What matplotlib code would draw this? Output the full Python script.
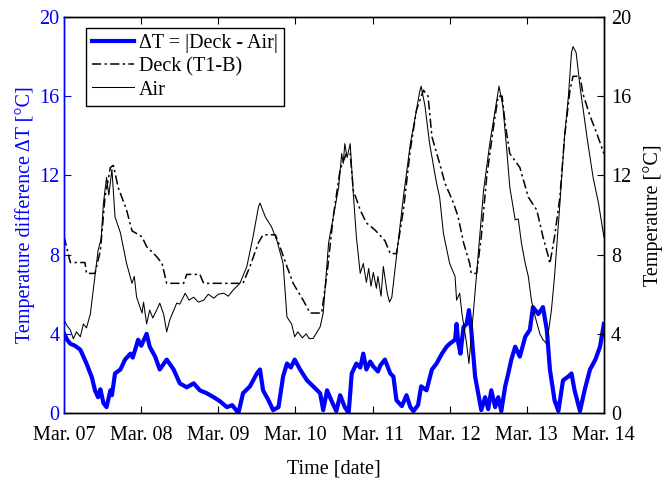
import matplotlib
matplotlib.use("Agg")
import matplotlib.pyplot as plt

plt.rcParams['font.family'] = ['Liberation Serif', 'DejaVu Serif']

# Time axis in days after Mar. 07 00:00
day_labels = ["Mar. 07", "Mar. 08", "Mar. 09", "Mar. 10",
              "Mar. 11", "Mar. 12", "Mar. 13", "Mar. 14"]

# Deck surface temperature, sensor T1-B [°C]
t_deck = [0.00, 0.08, 0.27, 0.29, 0.40, 0.47, 0.53, 0.60, 0.64, 0.70,
          0.81, 0.88, 1.01, 1.07, 1.20, 1.27, 1.33, 1.55, 1.59, 1.76,
          1.81, 2.32, 2.41, 2.52, 2.58, 2.74, 2.78, 2.89, 2.97, 3.10,
          3.19, 3.34, 3.41, 3.49, 3.58, 3.66, 3.71, 3.75, 3.84, 3.92,
          4.03, 4.16, 4.23, 4.31, 4.40, 4.49, 4.57, 4.66, 4.72, 4.77,
          4.87, 4.94, 5.05, 5.11, 5.18, 5.26, 5.28, 5.35, 5.41, 5.48,
          5.57, 5.63, 5.68, 5.72, 5.78, 5.91, 6.02, 6.13, 6.21, 6.28,
          6.30, 6.36, 6.43, 6.49, 6.56, 6.60, 6.69, 6.73, 6.82, 6.91,
          7.00]
deck = [8.9, 7.6, 7.6, 7.05, 7.05, 8.2, 10.9, 12.4, 12.5, 11.4,
        10.25, 9.2, 8.9, 8.4, 7.9, 7.55, 6.55, 6.55, 7.0, 7.0,
        6.55, 6.55, 7.4, 8.6, 9.0, 9.0, 8.6, 7.4, 6.55, 5.7,
        5.05, 5.05, 7.05, 9.9, 12.3, 13.1, 13.1, 11.25, 10.25, 9.6,
        9.25, 8.7, 8.05, 8.05, 10.25, 13.3, 15.3, 16.3, 16.0, 13.95,
        12.6, 11.6, 10.6, 9.9, 8.6, 7.55, 7.05, 7.05, 8.9, 11.9,
        14.5, 16.0, 16.0, 14.6, 13.1, 12.4, 10.9, 10.25, 8.9, 7.9,
        7.55, 8.9, 10.9, 13.95, 16.3, 17.0, 17.0, 16.1, 15.0, 14.1,
        13.1]

# Air temperature [°C]
t_air = [0.00, 0.04, 0.08, 0.12, 0.16, 0.21, 0.25, 0.29, 0.34, 0.40,
         0.44, 0.48, 0.51, 0.55, 0.58, 0.62, 0.66, 0.73, 0.81, 0.88,
         0.91, 0.94, 1.01, 1.03, 1.07, 1.11, 1.15, 1.20, 1.24, 1.29,
         1.33, 1.37, 1.46, 1.50, 1.57, 1.62, 1.68, 1.74, 1.81, 1.87,
         1.94, 2.00, 2.07, 2.13, 2.19, 2.28, 2.37, 2.45, 2.52, 2.54,
         2.61, 2.69, 2.76, 2.84, 2.89, 2.95, 2.99, 3.03, 3.09, 3.14,
         3.18, 3.23, 3.32, 3.36, 3.43, 3.49, 3.56, 3.60, 3.62, 3.64,
         3.67, 3.71, 3.75, 3.79, 3.84, 3.88, 3.92, 3.95, 3.98, 4.01,
         4.05, 4.07, 4.11, 4.14, 4.19, 4.22, 4.25, 4.31, 4.40, 4.49,
         4.57, 4.61, 4.63, 4.68, 4.74, 4.83, 4.87, 4.92, 5.00, 5.07,
         5.09, 5.13, 5.16, 5.22, 5.25, 5.31, 5.39, 5.44, 5.52, 5.59,
         5.64, 5.69, 5.74, 5.78, 5.85, 5.89, 5.93, 5.98, 6.02, 6.06,
         6.11, 6.17, 6.21, 6.26, 6.32, 6.36, 6.43, 6.49, 6.54, 6.58,
         6.60, 6.64, 6.69, 6.78, 6.86, 6.93, 7.00]
air = [4.7, 4.4, 4.2, 3.75, 4.1, 3.85, 4.5, 4.3, 5.0, 6.9,
       8.2, 8.8, 10.6, 11.9, 11.0, 12.3, 9.9, 9.1, 7.55, 6.55,
       6.9, 5.85, 5.05, 5.6, 4.5, 5.2, 4.8, 5.2, 5.55, 5.0,
       4.1, 4.7, 5.55, 5.5, 6.05, 5.7, 5.85, 5.6, 5.7, 6.0,
       5.8, 6.0, 6.05, 5.9, 6.2, 6.55, 7.4, 8.9, 10.4, 10.6,
       9.9, 9.4, 8.7, 7.55, 4.85, 4.5, 3.85, 4.1, 3.8, 4.0,
       3.75, 3.77, 4.35, 5.05, 8.6, 9.9, 11.4, 13.1, 12.6, 13.6,
       12.9, 13.6, 11.1, 8.9, 7.05, 7.55, 6.6, 7.3, 6.4, 7.1,
       6.3, 6.9, 5.9, 7.4, 6.05, 5.6, 5.85, 7.9, 10.9, 13.6,
       15.3, 16.2, 16.5, 15.5, 13.6, 11.6, 10.9, 9.05, 7.55, 6.9,
       5.7, 6.05, 5.0, 3.5, 2.5, 5.2, 8.9, 11.25, 13.6, 15.3,
       16.5, 15.5, 13.3, 11.4, 9.75, 9.8, 8.6, 7.55, 6.9, 5.7,
       4.85, 4.0, 3.7, 3.5, 5.2, 6.9, 10.6, 13.95, 16.0, 18.2,
       18.5, 18.2, 16.5, 13.95, 11.9, 10.6, 8.9]

# Temperature difference |Deck - Air| [°C]
t_dt = [0.00, 0.04, 0.08, 0.14, 0.21, 0.29, 0.36, 0.40, 0.44, 0.47,
        0.51, 0.55, 0.60, 0.62, 0.66, 0.73, 0.79, 0.86, 0.89, 0.96,
        1.00, 1.07, 1.11, 1.18, 1.24, 1.33, 1.42, 1.50, 1.59, 1.68,
        1.76, 1.85, 1.94, 2.02, 2.11, 2.18, 2.26, 2.32, 2.41, 2.50,
        2.54, 2.58, 2.65, 2.71, 2.78, 2.84, 2.89, 2.94, 2.99, 3.06,
        3.15, 3.23, 3.32, 3.36, 3.41, 3.47, 3.53, 3.58, 3.64, 3.69,
        3.73, 3.79, 3.84, 3.88, 3.92, 3.97, 4.01, 4.07, 4.10, 4.16,
        4.23, 4.27, 4.31, 4.38, 4.44, 4.49, 4.53, 4.59, 4.63, 4.70,
        4.77, 4.83, 4.90, 4.96, 5.00, 5.07, 5.09, 5.11, 5.14, 5.18,
        5.22, 5.25, 5.28, 5.33, 5.37, 5.41, 5.46, 5.50, 5.54, 5.59,
        5.63, 5.67, 5.72, 5.76, 5.80, 5.85, 5.91, 5.98, 6.04, 6.08,
        6.15, 6.21, 6.26, 6.30, 6.36, 6.41, 6.47, 6.54, 6.58, 6.62,
        6.69, 6.75, 6.82, 6.89, 6.95, 7.00]
dt = [4.0, 3.7, 3.5, 3.4, 3.2, 2.5, 1.8, 1.15, 0.8, 1.2,
      0.5, 0.3, 1.15, 0.9, 2.0, 2.2, 2.7, 3.0, 2.8, 3.7,
      3.4, 4.0, 3.35, 2.85, 2.2, 2.7, 2.2, 1.5, 1.3, 1.5,
      1.15, 1.0, 0.8, 0.6, 0.3, 0.4, 0.0, 1.0, 1.35, 2.0,
      2.2, 1.15, 0.65, 0.15, 0.3, 1.85, 2.5, 2.3, 2.7, 2.2,
      1.65, 1.35, 1.0, 0.15, 1.15, 0.6, 0.1, 0.9, 0.3, 0.0,
      2.0, 2.5, 2.3, 3.0, 2.2, 2.6, 2.35, 2.1, 2.4, 2.7,
      2.0, 1.85, 0.65, 0.35, 0.9, 0.3, 0.1, 0.4, 1.35, 1.15,
      2.2, 2.5, 3.0, 3.35, 3.5, 3.7, 4.5, 3.6, 3.0, 4.35,
      4.5, 5.2, 4.2, 1.85, 1.0, 0.15, 0.8, 0.2, 1.15, 0.3,
      0.8, 0.1, 1.35, 2.0, 2.7, 3.35, 2.85, 3.85, 4.2, 5.35,
      5.0, 5.35, 4.2, 2.2, 0.65, 0.1, 1.65, 1.85, 2.0, 1.15,
      0.1, 1.15, 2.2, 2.7, 3.35, 4.5]

fig, ax1 = plt.subplots(figsize=(6.68, 4.82), dpi=100)
fig.subplots_adjust(left=0.096, right=0.904, bottom=0.143, top=0.965)
ax2 = ax1.twinx()

blue = (0, 0, 1)
fs = 14.5

l_dt, = ax1.plot(t_dt, dt, color=blue, lw=3.0, solid_joinstyle='round')
l_deck, = ax2.plot(t_deck, deck, color='black', lw=1.1,
                   dashes=(6, 2.2, 1.5, 2.2))
l_air, = ax2.plot(t_air, air, color='black', lw=0.75)

for ax in (ax1, ax2):
    ax.set_xlim(0, 7)
    ax.set_ylim(0, 20)
    ax.set_yticks(range(0, 21, 4))

ax1.set_xticks(range(len(day_labels)))
ax1.set_xticklabels(day_labels, fontsize=fs)
ax1.tick_params(axis='x', direction='in', top=True, length=5, width=0.8,
                pad=9)
ax1.tick_params(axis='y', direction='in', colors=blue, labelsize=fs,
                length=5, width=0.8)
ax2.tick_params(axis='y', direction='in', colors='black', labelsize=fs,
                length=5, width=0.8, pad=5)

ax1.spines['left'].set_color(blue)
ax2.spines['left'].set_color(blue)
for ax in (ax1, ax2):
    for s in ax.spines.values():
        s.set_linewidth(1.0)

ax1.set_xlabel("Time [date]", fontsize=fs, labelpad=10.5)
ax1.set_ylabel("Temperature difference ΔT [°C]", fontsize=fs, color=blue,
               labelpad=3)
ax2.set_ylabel("Temperature [°C]", fontsize=fs, labelpad=9)

leg = ax2.legend([l_dt, l_deck, l_air],
                 ["ΔT = |Deck - Air|", "Deck (T1-B)", "Air"],
                 loc='upper left', bbox_to_anchor=(0.04, 0.972),
                 borderaxespad=0, fontsize=fs, fancybox=False,
                 edgecolor='black', framealpha=1, handlelength=2.1,
                 handletextpad=0.25, labelspacing=0.2, borderpad=0.3)
leg.get_frame().set_linewidth(1.0)

fig.savefig("out.png", dpi=100)
